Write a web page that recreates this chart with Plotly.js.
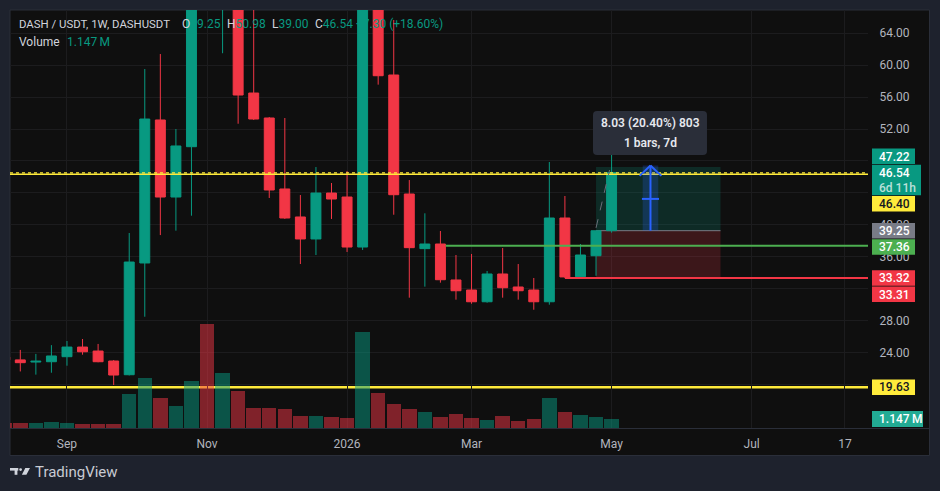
<!DOCTYPE html>
<html>
<head>
<meta charset="utf-8">
<script src="https://cdn.plot.ly/plotly-3.0.1.min.js"></script>
<style>
html,body{margin:0;padding:0;background:#1e222d;overflow:hidden;}
#chart{width:940px;height:491px;}
</style>
</head>
<body>
<div id="chart"></div>
<script>
// ---------------- DATA ----------------
const barWeeks = ['2025-08-04','2025-08-11','2025-08-18','2025-08-25','2025-09-01','2025-09-08','2025-09-15','2025-09-22','2025-09-29','2025-10-06','2025-10-13','2025-10-20','2025-10-27','2025-11-03','2025-11-10','2025-11-17','2025-11-24','2025-12-01','2025-12-08','2025-12-15','2025-12-22','2025-12-29','2026-01-05','2026-01-12','2026-01-19','2026-01-26','2026-02-02','2026-02-09','2026-02-16','2026-02-23','2026-03-02','2026-03-09','2026-03-16','2026-03-23','2026-03-30','2026-04-06','2026-04-13','2026-04-20','2026-04-27','2026-05-04'];
const openP  = [23.40,23.05,22.78,22.82,23.45,24.66,24.16,22.91,21.19,35.20,53.13,43.47,49.78,85.00,72.00,80.00,56.51,53.38,44.48,40.97,38.21,43.97,43.47,37.20,75.00,58.77,43.85,37.00,37.58,33.07,31.81,30.34,33.82,32.19,31.81,30.34,40.84,33.48,36.11,39.25];
const highP  = [24.10,24.30,23.80,24.90,25.42,25.67,25.05,23.03,38.96,59.52,61.40,52.00,92.00,131.00,95.00,84.00,68.50,53.50,53.38,43.72,47.23,45.23,46.73,82.00,78.00,65.67,45.60,41.43,39.21,36.20,36.33,34.20,37.08,35.07,33.32,47.86,43.60,37.58,39.25,50.98];
const lowP   = [22.40,21.60,21.20,21.44,22.32,23.70,22.75,19.90,21.10,28.46,38.70,39.25,41.13,70.00,61.50,52.66,53.13,43.35,40.72,35.07,36.20,40.72,36.58,36.83,57.56,41.25,30.85,32.23,32.73,30.60,30.09,30.22,30.85,30.60,29.34,29.97,33.31,33.23,33.60,39.00];
const closeP = [23.05,22.70,22.88,23.54,24.66,24.07,22.82,21.15,35.32,53.25,43.47,49.87,85.00,72.00,80.00,56.26,53.25,44.35,40.84,38.21,43.97,43.22,37.20,75.00,58.68,43.76,37.12,37.58,33.10,31.72,30.34,33.82,32.10,31.72,30.34,40.84,33.45,36.20,39.24,46.54];
const volumeM = [0.64,0.64,0.64,0.76,0.64,0.51,0.51,0.51,4.33,6.37,3.82,2.80,5.99,13.25,7.01,4.71,2.55,2.55,2.42,1.53,1.53,1.40,1.27,12.23,4.46,3.06,2.42,2.04,1.40,1.78,1.27,1.02,1.53,0.89,1.15,3.82,2.04,1.66,1.40,1.147];

const timeTickDates = ['2025-09-01','2025-11-03','2026-01-05','2026-03-02','2026-05-04','2026-07-06','2026-08-17'];
const timeTickText  = ['Sep','Nov','2026','Mar','May','Jul','17'];
const priceTicks    = [20,24,28,32,36,40,44,48,52,56,60,64];
const priceTickText = ['','24.00','28.00','','36.00','40.00','','','52.00','56.00','60.00','64.00'];

// drawn levels / tools
const upperLevel = 46.40;      // yellow dotted
const lowerLevel = 19.63;      // yellow solid
const greenLevel = 37.36;
const redLevel   = 33.32;
const posEntry = 39.25, posTarget = 47.22, posStop = 33.32;
const measureLine1 = '8.03 (20.40%) 803';
const measureLine2 = '1 bars, 7d';

// price-scale labels
const scaleLabelPrice = [47.22, 46.54, 46.40, 39.25, 37.36, 33.32, 33.31, 19.63];
const scaleLabelText  = ['47.22','46.54','46.40','39.25','37.36','33.32','33.31','19.63'];
const scaleLabelSub   = ['','6d 11h','','','','','',''];
const scaleLabelBg    = ['#089981','#089981','#ffeb3b','#787b86','#4caf50','#f23645','#f23645','#ffeb3b'];
const scaleLabelFg    = ['#ffffff','#ffffff','#131722','#ffffff','#ffffff','#ffffff','#ffffff','#131722'];
const volumeLabel = '1.147\u2009M';

const symbolTitle = 'DASH / USDT, 1W, DASHUSDT';

// ---------------- GEOMETRY ----------------
const FONT = 'Roboto, "Noto Sans", sans-serif';
const L=10, R=868, T=10, B=428;
const yMin=14.51, yMax=66.92, volMax=53.25;
const DAY=86400000;
const pxPerDay = 15.56/7, firstCenterPx = 20.3;
const UP='#089981', DOWN='#f23645';

const X = px => (px-L)/(R-L);
const Y = py => (B-py)/(B-T);
const pyPrice = p => T + (yMax-p)/(yMax-yMin)*(B-T);
const pyVol = v => B - v/volMax*(B-T);
const toStr = ms => new Date(ms).toISOString().slice(0,19).replace('T',' ');
const tOf = k => Date.parse(barWeeks[k]+'T00:00:00Z');
const dAt = (k, bars) => toStr(tOf(k) + bars*7*DAY);

const t0 = tOf(1);
const xr0 = toStr(t0 - (firstCenterPx-L)/pxPerDay*DAY);
const xr1 = toStr(t0 + (R-firstCenterPx)/pxPerDay*DAY);
const last = barWeeks.length-1;

// ---------------- TRACES ----------------
const volColors = closeP.map((c,i)=> c>=openP[i] ? 'rgba(8,153,129,0.5)' : 'rgba(242,54,69,0.5)');
const traces = [
  {type:'candlestick', x:barWeeks, open:openP, high:highP, low:lowP, close:closeP,
   xaxis:'x', yaxis:'y', whiskerwidth:0,
   increasing:{line:{color:UP,width:1}, fillcolor:UP},
   decreasing:{line:{color:DOWN,width:1}, fillcolor:DOWN},
   hoverinfo:'skip', showlegend:false},
  {type:'bar', x:barWeeks, y:volumeM, xaxis:'x', yaxis:'y2', width:6.5*DAY,
   marker:{color:volColors, line:{width:0}}, hoverinfo:'skip', showlegend:false}
];

// ---------------- SHAPES ----------------
const shapes = [];
shapes.push({type:'rect', xref:'paper', yref:'paper', x0:X(10), x1:X(929.5), y0:Y(455.5), y1:Y(10),
  fillcolor:'#0f0f0f', line:{color:'#2a2e39', width:1}, layer:'below'});
shapes.push({type:'line', xref:'paper', yref:'paper', x0:X(10), x1:X(929.5), y0:Y(428.5), y1:Y(428.5),
  line:{color:'#2a2e39', width:1}, layer:'above'});

// long position tool
const posK0 = last-1, posBars = 8;
shapes.push({type:'rect', xref:'x', yref:'y', x0:barWeeks[posK0], x1:dAt(posK0,posBars), y0:posEntry, y1:posTarget,
  fillcolor:'rgba(8,153,129,0.2)', line:{width:0}, layer:'between'});
shapes.push({type:'rect', xref:'x', yref:'y', x0:barWeeks[posK0], x1:dAt(posK0,posBars), y0:posStop, y1:posEntry,
  fillcolor:'rgba(242,54,69,0.2)', line:{width:0}, layer:'between'});
shapes.push({type:'line', xref:'x', yref:'y', x0:barWeeks[posK0], x1:dAt(posK0,posBars), y0:posEntry, y1:posEntry,
  line:{color:'#787b86', width:1}, layer:'between'});

// levels
shapes.push({type:'line', xref:'paper', yref:'y', x0:0, x1:1, y0:lowerLevel, y1:lowerLevel,
  line:{color:'#ffeb3b', width:2.5}, layer:'between'});
shapes.push({type:'line', xref:'paper', yref:'y', x0:0, x1:1, y0:upperLevel-0.07, y1:upperLevel-0.07,
  line:{color:'#ffeb3b', width:1.4}, layer:'above'});
shapes.push({type:'line', xref:'paper', yref:'y', x0:0, x1:1, y0:upperLevel+0.1, y1:upperLevel+0.1,
  line:{color:'#ffeb3b', width:1.2, dash:'dot'}, layer:'above'});
shapes.push({type:'line', xref:'x', yref:'y', x0:dAt(28,0.34), x1:xr1, y0:greenLevel, y1:greenLevel,
  line:{color:'#4caf50', width:2}, layer:'above'});
shapes.push({type:'line', xref:'x', yref:'y', x0:barWeeks[36], x1:xr1, y0:redLevel, y1:redLevel,
  line:{color:'#f23645', width:2}, layer:'above'});

// dashed path of last bar
shapes.push({type:'line', xref:'x', yref:'y', x0:barWeeks[posK0], x1:dAt(posK0,0.87), y0:39.6, y1:46.86,
  line:{color:'#6a6d78', width:1, dash:'dash'}, layer:'above'});

// measure arrow
const aK = last, aOff = 2.5;
shapes.push({type:'rect', xref:'x', yref:'y', x0:dAt(aK,aOff-0.5), x1:dAt(aK,aOff+0.5), y0:posEntry, y1:posTarget+0.2,
  fillcolor:'rgba(41,98,255,0.22)', line:{width:0}, layer:'above'});
shapes.push({type:'line', xref:'x', yref:'y', x0:dAt(aK,aOff), x1:dAt(aK,aOff), y0:posEntry, y1:posTarget+0.2,
  line:{color:'#2962ff', width:2}, layer:'above'});
shapes.push({type:'line', xref:'x', yref:'y', x0:dAt(aK,aOff-0.7), x1:dAt(aK,aOff), y0:posTarget-1.1, y1:posTarget+0.2,
  line:{color:'#2962ff', width:2}, layer:'above'});
shapes.push({type:'line', xref:'x', yref:'y', x0:dAt(aK,aOff+0.7), x1:dAt(aK,aOff), y0:posTarget-1.1, y1:posTarget+0.2,
  line:{color:'#2962ff', width:2}, layer:'above'});
shapes.push({type:'line', xref:'x', yref:'y', x0:dAt(aK,aOff-0.55), x1:dAt(aK,aOff+0.55), y0:(posEntry+posTarget)/2, y1:(posEntry+posTarget)/2,
  line:{color:'#2962ff', width:2}, layer:'above'});

// rounded rect helper (px -> paper path)
function rrPath(x0,y0,x1,y1,r){
  const P=(a,b)=>X(a).toFixed(5)+','+Y(b).toFixed(5);
  return 'M'+P(x0+r,y0)+' L'+P(x1-r,y0)+' Q'+P(x1,y0)+' '+P(x1,y0+r)+' L'+P(x1,y1-r)+' Q'+P(x1,y1)+' '+P(x1-r,y1)+
         ' L'+P(x0+r,y1)+' Q'+P(x0,y1)+' '+P(x0,y1-r)+' L'+P(x0,y0+r)+' Q'+P(x0,y0)+' '+P(x0+r,y0)+' Z';
}
const tipCx = 650;
shapes.push({type:'path', xref:'paper', yref:'paper', path:rrPath(tipCx-57,111,tipCx+57,155,4),
  fillcolor:'#2a2e39', line:{width:0}, layer:'above'});

// ---------------- ANNOTATIONS ----------------
const ann = [];
const txt = (px,py,text,opt={}) => ann.push(Object.assign({xref:'paper', yref:'paper', x:X(px), y:Y(py), text,
  showarrow:false, xanchor:'left', yanchor:'middle', font:{family:FONT, size:12, color:'#d1d4dc'}}, opt));

// header legend
const v = k => '<span style="color:'+UP+'">'+k+'</span>';
const chg = closeP[last]-closeP[last-1];
txt(17,24,symbolTitle,{font:{family:FONT,size:11.4,color:'#d1d4dc'}});
txt(180,24,'O'+v(openP[last].toFixed(2)));
txt(225,24,'H'+v(highP[last].toFixed(2)));
txt(270,24,'L'+v(lowP[last].toFixed(2)));
txt(313,24,'C'+v(closeP[last].toFixed(2)));
txt(354,24,v((chg>=0?'+':'')+chg.toFixed(2)+' ('+(chg>=0?'+':'')+(chg/closeP[last-1]*100).toFixed(2)+'%)'));
txt(17,42,'Volume');
txt(65,42,v(volumeLabel));

// measure tooltip text
txt(tipCx,122.7,measureLine1,{xanchor:'center', font:{family:FONT,size:12,color:'#e6e8ee',weight:600}});
txt(tipCx,142.7,measureLine2,{xanchor:'center', font:{family:FONT,size:12,color:'#e6e8ee',weight:600}});

// price scale labels with stacking
const anchorIdx = 1;
const hOne = 15.5, hTwo = 30.5, gap = 0.8;
const boxes = scaleLabelPrice.map((p,i)=>({c:pyPrice(p), h: scaleLabelSub[i] ? hTwo : hOne}));
boxes[anchorIdx].top = boxes[anchorIdx].c - hOne/2;
for(let i=anchorIdx-1;i>=0;i--){
  const nat = boxes[i].c - hOne/2;
  boxes[i].top = Math.min(nat, boxes[i+1].top - gap - boxes[i].h);
}
for(let i=anchorIdx+1;i<boxes.length;i++){
  const nat = boxes[i].c - hOne/2;
  boxes[i].top = Math.max(nat, boxes[i-1].top + boxes[i-1].h + gap);
}
boxes.forEach((b,i)=>{
  const x1 = scaleLabelSub[i] ? 921 : 915;
  shapes.push({type:'rect', xref:'paper', yref:'paper', x0:X(872), x1:X(x1), y0:Y(b.top+b.h), y1:Y(b.top),
    fillcolor:scaleLabelBg[i], line:{width:0}, layer:'above'});
  txt(876.5, b.top+hOne/2+0.3, scaleLabelText[i], {font:{family:FONT,size:12,color:scaleLabelFg[i],weight:500}});
  if(scaleLabelSub[i]) txt(876.5, b.top+hOne+7.5, scaleLabelSub[i], {font:{family:FONT,size:12,color:'rgba(255,255,255,0.72)',weight:500}});
});
const vy = pyVol(volumeM[last]);
shapes.push({type:'rect', xref:'paper', yref:'paper', x0:X(872), x1:X(923), y0:Y(vy+8), y1:Y(vy-8),
  fillcolor:'#22ab94', line:{width:0}, layer:'above'});
txt(876.5, vy+0.3, volumeLabel, {font:{family:FONT,size:12,color:'#ffffff',weight:500}});

// TradingView footer logo
const LOGO='#d1d4dc';
shapes.push({type:'rect', xref:'paper', yref:'paper', x0:X(10), x1:X(18.3), y0:Y(470.6), y1:Y(468), fillcolor:LOGO, line:{width:0}, layer:'above'});
shapes.push({type:'rect', xref:'paper', yref:'paper', x0:X(14.6), x1:X(17.4), y0:Y(474.8), y1:Y(468), fillcolor:LOGO, line:{width:0}, layer:'above'});
shapes.push({type:'circle', xref:'paper', yref:'paper', x0:X(19.2), x1:X(22), y0:Y(471), y1:Y(468.2), fillcolor:LOGO, line:{width:0}, layer:'above'});
shapes.push({type:'path', xref:'paper', yref:'paper', fillcolor:LOGO, line:{width:0}, layer:'above',
  path:'M'+X(25.3)+','+Y(468)+' L'+X(30)+','+Y(468)+' L'+X(26.4)+','+Y(474.8)+' L'+X(21.9)+','+Y(474.8)+' Z'});
txt(33,472.5,'TradingView',{font:{family:FONT,size:15,color:'#c8cbd3'}});

// ---------------- LAYOUT ----------------
const grid = '#1c1c1e';
const layout = {
  width:940, height:491,
  margin:{l:L, r:940-R, t:T, b:491-B, pad:0},
  paper_bgcolor:'#1e222d', plot_bgcolor:'#0f0f0f',
  showlegend:false, hovermode:false, dragmode:false,
  boxgap:0.36, boxgroupgap:0, bargap:0,
  xaxis:{type:'date', range:[xr0,xr1], tickmode:'array', tickvals:timeTickDates, ticktext:timeTickText,
         showgrid:true, gridcolor:grid, gridwidth:1, zeroline:false, showline:false,
         ticks:'outside', ticklen:5, tickcolor:'rgba(0,0,0,0)',
         tickfont:{family:FONT, size:12, color:'#b2b5be'}, rangeslider:{visible:false}, fixedrange:true},
  yaxis:{side:'right', range:[yMin,yMax], tickmode:'array',
          tickvals:priceTicks, ticktext:priceTickText, showgrid:true, gridcolor:grid, gridwidth:1,
          zeroline:false, showline:false, ticks:'outside', ticklen:8, tickcolor:'rgba(0,0,0,0)',
          tickfont:{family:FONT, size:12, color:'#b2b5be'}, fixedrange:true},
  yaxis2:{overlaying:'y', range:[0,volMax], visible:false, showgrid:false, zeroline:false, fixedrange:true},
  shapes, annotations:ann
};
Plotly.newPlot('chart', traces, layout, {staticPlot:true, displayModeBar:false, responsive:false});
</script>
</body>
</html>
